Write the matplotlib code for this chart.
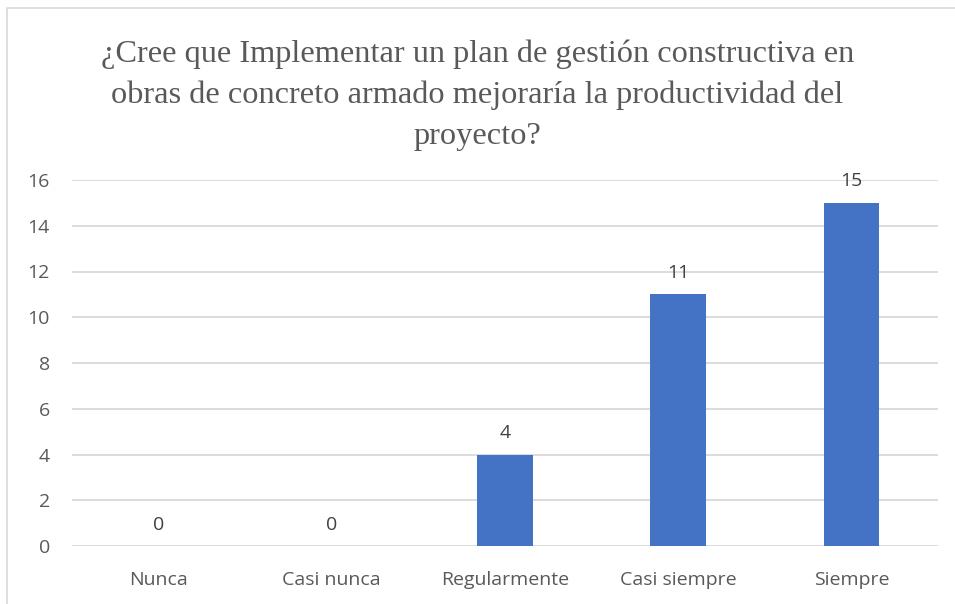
import matplotlib.pyplot as plt
from matplotlib.patches import Rectangle

categories = ["Nunca", "Casi nunca", "Regularmente", "Casi siempre", "Siempre"]
values = [0, 0, 4, 11, 15]
y_ticks = [0, 2, 4, 6, 8, 10, 12, 14, 16]

title = ("¿Cree que Implementar un plan de gestión constructiva en\n"
         "obras de concreto armado mejoraría la productividad del\n"
         "proyecto?")

fig = plt.figure(figsize=(9.55, 6.04), dpi=100)
ax = fig.add_axes([72 / 955, 1 - 546 / 604, (938 - 72) / 955, (546 - 180) / 604])

# chart border (cut at right and bottom like the screenshot)
fig.patches.append(Rectangle((7 / 955, -0.1), 1.2, 1 - 8 / 604 + 0.1,
                             transform=fig.transFigure, fill=False,
                             edgecolor="#D9D9D9", linewidth=1.2))

x = range(len(categories))
bars = ax.bar(x, values, width=0.32, color="#4472C4", zorder=3)

for xi, v in zip(x, values):
    ax.annotate(str(v), (xi, v), xytext=(0, 9), textcoords="offset points",
                ha="center", va="bottom", fontsize=14, color="#404040",
                family="Open Sans")

ax.set_xlim(-0.5, len(categories) - 0.5)
ax.set_ylim(0, 16)
ax.set_yticks(y_ticks)
ax.set_xticks(list(x))
ax.set_xticklabels(categories)

ax.yaxis.grid(True, color="#D9D9D9", linewidth=1.3, zorder=0)
ax.set_axisbelow(True)
for s in ax.spines.values():
    s.set_visible(False)
ax.tick_params(length=0, labelsize=14, labelcolor="#595959")
ax.tick_params(axis="y", pad=16)
ax.tick_params(axis="x", pad=18)
for lab in ax.get_xticklabels() + ax.get_yticklabels():
    lab.set_family("Open Sans")

fig.text(0.5, 1 - 95 / 604, title, ha="center", va="center",
         family="Liberation Serif", fontsize=23.3, color="#595959",
         linespacing=1.53)

fig.savefig("out.png", dpi=100)
